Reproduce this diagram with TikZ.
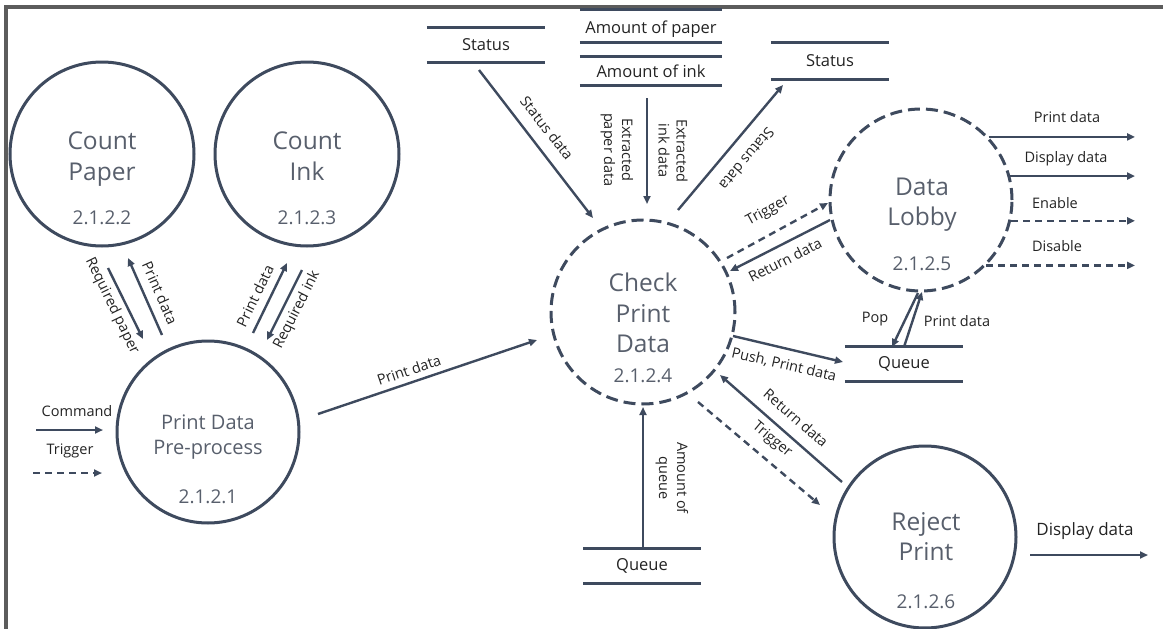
\documentclass[tikz,border=0pt]{standalone}
\usepackage{fontspec}
\setmainfont{Open Sans}
\usetikzlibrary{arrows.meta}
\definecolor{lc}{RGB}{62,74,94}
\definecolor{tc}{RGB}{88,95,108}
\definecolor{bc}{RGB}{92,92,92}
\definecolor{lab}{RGB}{35,35,35}
\begin{document}
\begin{tikzpicture}[x=1pt,y=-1pt,
 proc/.style={circle, draw=lc, line width=3pt, inner sep=0pt, minimum size=#1},
 dproc/.style={proc=#1, dash pattern=on 12pt off 6pt},
 pname/.style={text=tc, font=\fontsize{24.5}{31}\selectfont, align=center, inner sep=0pt},
 pnum/.style={text=tc, font=\fontsize{19}{22}\selectfont, inner sep=0pt},
 store/.style={minimum width=118pt, minimum height=#1, inner sep=0pt, text=lab, font=\fontsize{16.5}{18}\selectfont},
 storeline/.style={draw=lc, line width=3pt},
 flow/.style={draw=lc, line width=2.4pt, -{Triangle[length=8pt,width=7pt]}},
 dflow/.style={flow, dash pattern=on 7pt off 5pt},
 lbl/.style={text=lab, font=\fontsize{14.5}{18}\selectfont, inner sep=0pt, align=center},
]
\useasboundingbox (0,0) rectangle (1163,629);
% frame
\draw[bc, line width=4pt] (6,629) -- (6,7) -- (1163,7);

% processes
\node[proc=184pt] (cp) at (102,154) {};
\node[pname] (cpT) at (102,159) {Count\\Paper};
\node[pnum] (cpN) at (102,218) {2.1.2.2};
\node[proc=184pt] (ci) at (307,154) {};
\node[pname] (ciT) at (307,156) {Count\\Ink};
\node[pnum] (ciN) at (307,218) {2.1.2.3};
\node[proc=182pt] (pp) at (208,432) {};
\node[pname, font=\fontsize{20}{25}\selectfont] (ppT) at (208,437) {Print Data\\Pre-process};
\node[pnum] (ppN) at (208,497) {2.1.2.1};
\node[dproc=184pt] (chk) at (643,312) {};
\node[pname, font=\fontsize{24.5}{30.5}\selectfont] (chkT) at (643,313) {Check\\Print\\Data};
\node[pnum] (chkN) at (643,376) {2.1.2.4};
\node[dproc=182pt] (lob) at (921,200) {};
\node[pname, font=\fontsize{24.5}{30}\selectfont] (lobT) at (922,205) {Data\\Lobby};
\node[pnum] (lobN) at (922,264) {2.1.2.5};
\node[proc=182pt] (rej) at (925,537) {};
\node[pname, font=\fontsize{24.5}{30}\selectfont] (rejT) at (926,537) {Reject\\Print};
\node[pnum] (rejN) at (926,602) {2.1.2.6};

% stores
\node[store=34pt] (st1) at (486,45) {Status};
\node[store=32pt, minimum width=142pt, text height=20pt, text depth=4pt] (amp) at (651,26) {Amount of paper};
\node[store=28pt, minimum width=142pt] (ami) at (651,71) {Amount of ink};
\node[store=36pt] (st2) at (830,61) {Status};
\node[store=35pt] (q1) at (904,364) {Queue};
\node[store=35pt, minimum width=117pt] (q2) at (642,566) {Queue};
\foreach \n in {st1,amp,ami,st2,q1,q2}
  \draw[storeline] (\n.north west) -- (\n.north east) (\n.south west) -- (\n.south east);

% connector end points
\coordinate (rp1) at (108,268); \coordinate (rp2) at (143,339);
\coordinate (pd1) at (162,335); \coordinate (pd2) at (128,258);
\coordinate (pi1) at (253,333); \coordinate (pi2) at (287,263);
\coordinate (ri1) at (302,270); \coordinate (ri2) at (267,340);
\coordinate (pc1) at (318,414); \coordinate (pc2) at (537,340);
\coordinate (cm1) at (36,430);  \coordinate (cm2) at (103,430);
\coordinate (tg1) at (33,473);  \coordinate (tg2) at (102,473);
\coordinate (sd1) at (479,70);  \coordinate (sd2) at (593,218);
\coordinate (ex1) at (647,98);  \coordinate (ex2) at (647,204);
\coordinate (so1) at (678,210); \coordinate (so2) at (783,85);
\coordinate (tl1) at (727,258); \coordinate (tl2) at (828,203);
\coordinate (rl1) at (830,220); \coordinate (rl2) at (730,271);
\coordinate (pu1) at (733,336); \coordinate (pu2) at (843,362);
\coordinate (po1) at (918,293); \coordinate (po2) at (892,347);
\coordinate (pq1) at (904,347); \coordinate (pq2) at (922,292);
\coordinate (aq1) at (643,549); \coordinate (aq2) at (643,407);
\coordinate (rr1) at (842,482); \coordinate (rr2) at (720,375);
\coordinate (tr1) at (698,402); \coordinate (tr2) at (820,505);
\coordinate (dd1) at (1030,555); \coordinate (dd2) at (1148,555);
\coordinate (rx) at (1135,0);

% connectors
\draw[flow] (rp1) -- (rp2);
\draw[flow] (pd1) -- (pd2);
\draw[flow] (pi1) -- (pi2);
\draw[flow] (ri1) -- (ri2);
\draw[flow] (pc1) -- (pc2);
\draw[flow] (cm1) -- (cm2);
\draw[dflow] (tg1) -- (tg2);
\draw[flow] (sd1) -- (sd2);
\draw[flow] (ex1) -- (ex2);
\draw[flow] (so1) -- (so2);
\draw[dflow] (tl1) -- (tl2);
\draw[flow] (rl1) -- (rl2);
\draw[flow] (pu1) -- (pu2);
\draw[flow] (po1) -- (po2);
\draw[flow] (pq1) -- (pq2);
\draw[flow] (aq1) -- (aq2);
\draw[flow] (rr1) -- (rr2);
\draw[dflow] (tr1) -- (tr2);
\draw[flow] (dd1) -- (dd2);
\draw[flow] (lob.43) -- (lob.43 -| rx);
\draw[flow] (lob.15) -- (lob.15 -| rx);
\draw[dflow] (lob.-13) -- (lob.-13 -| rx);
\draw[dflow] (lob.-45) -- (lob.-45 -| rx);

% labels
\node[lbl, rotate=-64] at (112,306) {Required paper};
\node[lbl, rotate=-66] at (160,293) {Print data};
\node[lbl, rotate=64] at (255,296) {Print data};
\node[lbl, rotate=63] at (297,310) {Required ink};
\node[lbl, rotate=18.7] at (409,370) {Print data};
\node[lbl] at (77,411) {Command};
\node[lbl] at (70,451) {Trigger};
\node[lbl, rotate=-52] at (547,128) {Status data};
\node[lbl, rotate=-90] at (617,150) {Extracted\\paper data};
\node[lbl, rotate=-90] at (673,151) {Extracted\\ink data};
\node[lbl, rotate=230] at (747,159) {Status data};
\node[lbl, rotate=28.6] at (768,211) {Trigger};
\node[lbl, rotate=27] at (785,260) {Return data};
\node[lbl, rotate=-13] at (784,365) {Push, Print data};
\node[lbl] at (875,319) {Pop};
\node[lbl] at (957,321) {Print data};
\node[lbl, rotate=-90] at (672,478) {Amount of\\queue};
\node[lbl, rotate=-41] at (796,418) {Return data};
\node[lbl, rotate=-40] at (772,440) {Trigger};
\node[lbl, font=\fontsize{17}{20}\selectfont] at (1085,531) {Display data};
\node[lbl] at (1067,117) {Print data};
\node[lbl] at (1066,159) {Display data};
\node[lbl] at (1055,203) {Enable};
\node[lbl] at (1057,246) {Disable};
\end{tikzpicture}
\end{document}
